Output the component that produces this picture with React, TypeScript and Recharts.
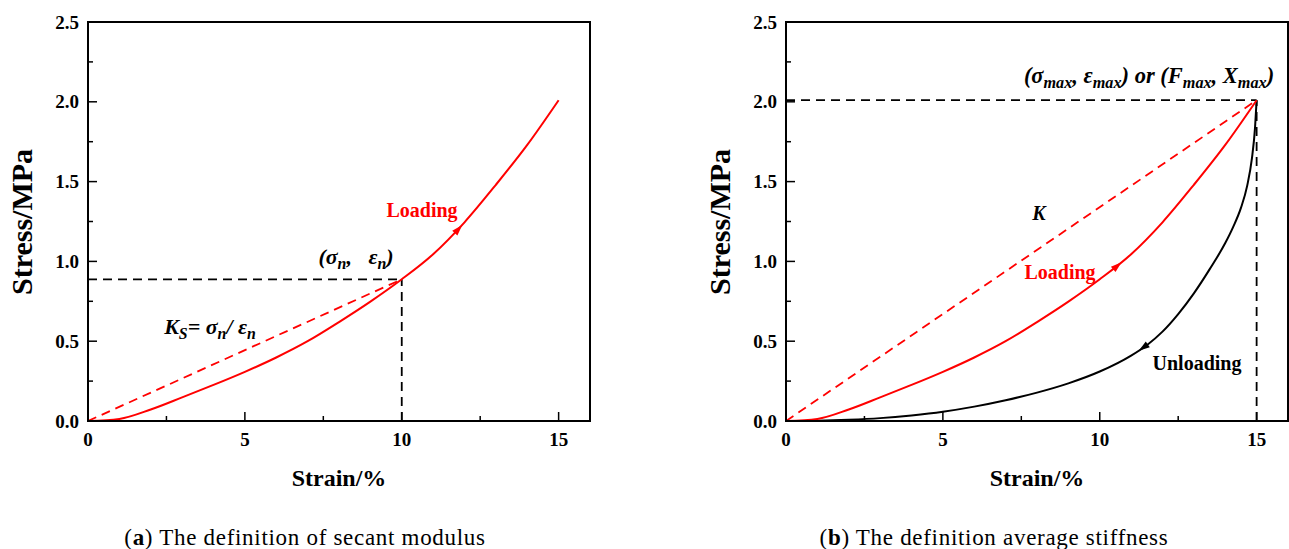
import React from "react";
import {
  ComposedChart,
  Line,
  Scatter,
  XAxis,
  YAxis,
  ReferenceArea,
} from "recharts";

// strain (%) / stress (MPa)
const loadStrain = [0, 1, 2, 3, 4, 5, 6, 7, 8, 9, 10, 11, 12, 13, 14, 15];
const loadStress = [0, 0.013, 0.072, 0.148, 0.226, 0.308, 0.398, 0.5, 0.62, 0.748, 0.888, 1.045, 1.245, 1.48, 1.73, 2.01];

const unloadStrain = [0, 1, 2, 3, 4, 5, 6, 7, 8, 9, 10, 11, 11.5, 12, 12.5, 13, 13.5, 14, 14.25, 14.5, 14.7, 14.85, 14.95, 15];
const unloadStress = [0, 0.002, 0.008, 0.018, 0.035, 0.058, 0.09, 0.13, 0.178, 0.236, 0.31, 0.41, 0.475, 0.56, 0.67, 0.8, 0.95, 1.115, 1.215, 1.335, 1.475, 1.645, 1.84, 2.01];

const secantPoint = { x: 10, y: 0.888 };
const maxPoint = { x: 15, y: 2.01 };

const xTicks = [0, 2.5, 5, 7.5, 10, 12.5, 15];
const yTicks = [0, 0.25, 0.5, 0.75, 1, 1.25, 1.5, 1.75, 2, 2.25, 2.5];

// arrow heads on curves (angle in screen degrees)
const leftArrows = [{ x: 11.8, y: 1.2, angle: -47, color: "#ff0000" }];
const rightArrows = [
  { x: 10.55, y: 0.97, angle: -41, color: "#ff0000" },
  { x: 11.4, y: 0.462, angle: 145, color: "#000000" },
];

const FONT = "'Liberation Serif', 'Times New Roman', serif";
const RED = "#ff0000";

const zip = (xs: number[], ys: number[]) => xs.map((x, i) => ({ x, y: ys[i] }));
const loading = zip(loadStrain, loadStress);
const unloading = zip(unloadStrain, unloadStress);

const XTick = ({ x, y, payload }: any) => {
  const major = payload.value % 5 === 0;
  return (
    <g>
      <line x1={x} x2={x} y1={y} y2={y - (major ? 9 : 5)} stroke="#000" strokeWidth={1.5} />
      {major && (
        <text x={x} y={y + 25} textAnchor="middle" fontFamily={FONT} fontWeight="bold" fontSize={19} fill="#000">
          {payload.value}
        </text>
      )}
    </g>
  );
};

const YTick = ({ x, y, payload }: any) => {
  const major = Math.abs((payload.value * 2) % 1) < 1e-6;
  return (
    <g>
      <line x1={x} x2={x + (major ? 9 : 5)} y1={y} y2={y} stroke="#000" strokeWidth={1.5} />
      {major && (
        <text x={x - 9} y={y + 6.5} textAnchor="end" fontFamily={FONT} fontWeight="bold" fontSize={19} fill="#000">
          {payload.value.toFixed(1)}
        </text>
      )}
    </g>
  );
};

const Arrow = ({ cx, cy, payload }: any) => (
  <polygon
    points="6,0 -5,-3.5 -5,3.5"
    transform={`translate(${cx},${cy}) rotate(${payload.angle})`}
    fill={payload.color}
  />
);

function Panel({ right }: { right?: boolean }) {
  const pt = right ? maxPoint : secantPoint;
  const secant = [{ x: 0, y: 0 }, pt];
  const hGuide = [{ x: 0, y: pt.y }, pt];
  const vGuide = [{ x: pt.x, y: 0 }, pt];
  return (
    <ComposedChart
      width={right ? 591 : 640}
      height={500}
      margin={{ top: 22, right: right ? 1 : 50, bottom: 39, left: 28 }}
    >
      <XAxis
        type="number"
        dataKey="x"
        domain={[0, 16]}
        ticks={xTicks}
        tick={<XTick />}
        tickSize={0}
        tickMargin={0}
        tickLine={false}
        axisLine={{ stroke: "#000", strokeWidth: 2 }}
        height={40}
        allowDataOverflow
      />
      <YAxis
        type="number"
        dataKey="y"
        domain={[0, 2.5]}
        ticks={yTicks}
        tick={<YTick />}
        tickSize={0}
        tickMargin={0}
        tickLine={false}
        axisLine={{ stroke: "#000", strokeWidth: 2 }}
        width={60}
        allowDataOverflow
      />
      <ReferenceArea x1={0} x2={16} y1={0} y2={2.5} fill="none" stroke="#000" strokeWidth={2} />
      <Line data={hGuide} dataKey="y" type="linear" stroke="#000" strokeWidth={1.8} strokeDasharray="9 6" dot={false} isAnimationActive={false} />
      <Line data={vGuide} dataKey="y" type="linear" stroke="#000" strokeWidth={1.8} strokeDasharray="9 6" dot={false} isAnimationActive={false} />
      <Line data={secant} dataKey="y" type="linear" stroke={RED} strokeWidth={1.8} strokeDasharray="9 6" dot={false} isAnimationActive={false} />
      {right && (
        <Line data={unloading} dataKey="y" type="monotone" stroke="#000" strokeWidth={2} dot={false} isAnimationActive={false} />
      )}
      <Line data={loading} dataKey="y" type="monotone" stroke={RED} strokeWidth={2} dot={false} isAnimationActive={false} />
      <Scatter data={right ? rightArrows : leftArrows} dataKey="y" shape={<Arrow />} isAnimationActive={false} />
    </ComposedChart>
  );
}

const Note = ({ x, y, size = 20, color = "#000", italic, rotate, children }: any) => (
  <div
    style={{
      position: "absolute",
      left: x,
      top: y,
      transform: `translate(-50%, -50%)${rotate ? " rotate(-90deg)" : ""}`,
      fontFamily: FONT,
      fontWeight: "bold",
      fontStyle: italic ? "italic" : "normal",
      fontSize: size,
      color,
      whiteSpace: "nowrap",
      lineHeight: 1,
    }}
  >
    {children}
  </div>
);

const sub = { fontSize: "0.72em", verticalAlign: "-0.3em" } as const;

const caption = {
  position: "absolute",
  top: 537,
  transform: "translate(-50%, -50%)",
  fontFamily: FONT,
  fontSize: 23,
  letterSpacing: 0.7,
  whiteSpace: "nowrap",
  lineHeight: 1,
} as const;

export default function App() {
  return (
    <div style={{ position: "absolute", left: 0, top: 0, width: 1289, height: 549, background: "#fff", overflow: "hidden" }}>
      <div style={{ position: "absolute", left: 0, top: 0 }}>
        <Panel />
      </div>
      <div style={{ position: "absolute", left: 698, top: 0 }}>
        <Panel right />
      </div>

      {/* axis titles */}
      <Note x={22} y={222} size={30} rotate>Stress/MPa</Note>
      <Note x={339} y={478} size={24}>Strain/%</Note>
      <Note x={720} y={222} size={30} rotate>Stress/MPa</Note>
      <Note x={1037} y={478} size={24}>Strain/%</Note>

      {/* left annotations */}
      <Note x={422} y={210} color={RED}>Loading</Note>
      <Note x={356} y={259} size={22} italic>
        (σ<span style={sub}>n</span>,&nbsp;&nbsp; ε<span style={sub}>n</span>)
      </Note>
      <Note x={210} y={329} size={22} italic>
        K<span style={sub}>S</span>= σ<span style={sub}>n</span>/ ε<span style={sub}>n</span>
      </Note>

      {/* right annotations */}
      <Note x={1149} y={78} size={22.5} italic>
        (σ<span style={sub}>max</span>, ε<span style={sub}>max</span>) or (F<span style={sub}>max</span>, X<span style={sub}>max</span>)
      </Note>
      <Note x={1039} y={213} italic>K</Note>
      <Note x={1060} y={272} color={RED}>Loading</Note>
      <Note x={1197} y={363}>Unloading</Note>

      {/* captions */}
      <div style={{ ...caption, left: 305 }}>
        (<b>a</b>) The definition of secant modulus
      </div>
      <div style={{ ...caption, left: 994 }}>
        (<b>b</b>) The definition average stiffness
      </div>
    </div>
  );
}
